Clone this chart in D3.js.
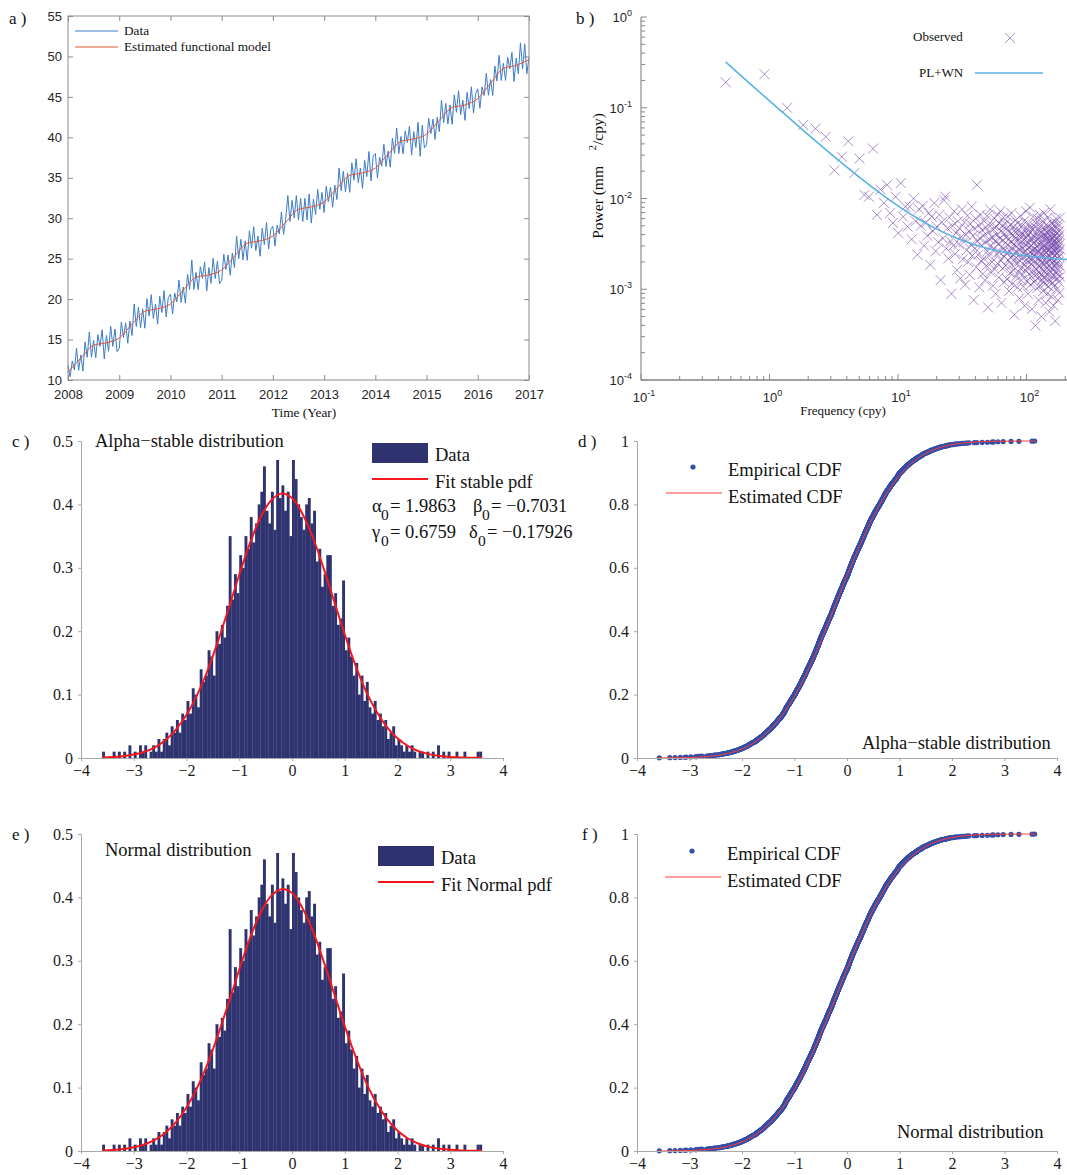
<!DOCTYPE html>
<html><head><meta charset="utf-8">
<script src="https://cdn.jsdelivr.net/npm/d3@7"></script>
<style>body{margin:0;background:#fff}svg{display:block}</style>
</head><body>
<script>
// ---------- Panel a: GPS time series ----------
const tsStart = 2008, tsStep = 1/24;
const tsData = [
11.8,10.4,12.35,11.25,13.95,11.2,13.1,11.1,14.7,12.8,15.95,12.8,14.9,12.75,15.6,14.15,16.2,12.6,15.5,13.55,16.65,14.15,16.3,13.5,
13.9,17.15,15.25,17.05,14.55,17.3,15.5,19.4,16.6,19.0,16.45,18.8,16.4,20.05,17.9,20.55,17.6,19.4,16.9,20.35,18.35,21.05,17.8,20.2,
20.6,18.15,20.75,19.65,22.35,19.6,21.5,19.5,23.1,21.2,24.85,21.2,23.3,21.15,24.0,22.55,24.6,21.0,23.9,21.95,25.05,22.55,24.7,21.9,
22.3,25.55,23.65,25.45,22.95,25.7,23.9,27.8,25.0,27.4,24.85,27.2,24.8,28.45,26.3,28.95,26.0,27.8,25.3,28.75,26.75,29.45,26.2,28.6,
29.0,26.55,29.15,28.05,30.75,28.0,29.9,32.8,29.6,32.2,30.05,32.8,29.8,32.45,29.6,32.45,29.8,33.0,29.4,32.35,30.45,33.55,31.1,33.2,
30.7,33.95,32.05,33.85,31.35,34.1,32.3,36.2,33.4,35.8,33.25,35.6,33.2,36.85,34.7,37.35,34.4,36.2,33.7,37.15,35.15,38.25,34.6,37.7,
38.0,34.95,37.55,36.45,39.15,36.4,38.3,36.3,39.9,38.0,41.15,38.0,40.1,37.95,40.8,39.35,41.4,37.8,40.7,38.75,41.85,37.65,41.5,38.7,
39.1,42.35,40.45,42.25,39.75,42.5,40.7,44.6,41.8,44.2,41.65,44.0,41.6,45.25,43.1,45.75,42.8,44.6,42.1,45.55,43.55,46.25,43.0,45.4,
46.0,43.59,46.23,45.17,47.91,45.2,47.14,45.18,48.82,46.96,50.15,47.03,49.16,47.03,49.89,48.45,50.5,46.9,49.8,47.86,51.68,48.49,51.56,47.87,
49.9];
const modelStep = 0.25;
const tsModel = [
11.0,12.7,14.3,14.6, 15.2,16.9,18.5,18.8, 19.4,21.1,22.7,23.0, 23.6,25.3,26.9,27.2,
27.8,29.5,31.1,31.4, 32.0,33.7,35.3,35.6, 36.2,37.9,39.5,39.8, 40.4,42.1,43.7,44.0,
44.8,46.7,48.5,48.9, 49.6];
const yearTicks = [2008,2009,2010,2011,2012,2013,2014,2015,2016,2017];
const posTicks = [10,15,20,25,30,35,40,45,50,55];

// ---------- Panel b: power spectrum ----------
const freqStep = 0.4566;
const psdLogPower = [
-0.72,-0.63,-1.00,-1.19,-1.23,-1.32,-1.69,-1.54,-1.37,-1.72,
-1.56,-1.96,-1.98,-1.45,-2.18,-1.90,-2.05,-1.85,-2.16,-2.27,
-1.98,-2.38,-1.83,-2.20,-2.09,-2.31,-2.09,-2.45,-2.00,-2.25,
-2.62,-2.12,-2.30,-2.08,-2.52,-2.27,-2.41,-2.16,-2.73,-2.20,
-2.36,-2.05,-2.58,-2.31,-2.48,-2.18,-2.90,-2.26,-2.44,-2.02,
-1.98,-2.55,-2.33,-2.66,-2.21,-2.47,-3.05,-2.30,-2.52,-2.14,
-2.61,-2.38,-2.79,-2.25,-2.50,-2.33,-2.88,-2.42,-2.12,-2.67,
-2.48,-2.26,-2.95,-2.40,-2.57,-2.19,-2.70,-2.36,-2.84,-2.28,
-2.51,-2.09,-2.63,-2.41,-3.12,-2.33,-2.55,-2.22,-2.76,-1.85,
-2.47,-2.62,-2.30,-2.98,-2.44,-2.18,-2.69,-2.52,-2.35,-2.83,
-2.41,-2.66,-2.25,-2.90,-2.48,-2.32,-2.74,-2.19,-2.58,-3.20,
-2.37,-2.63,-2.45,-2.12,-2.81,-2.52,-2.29,-2.70,-2.43,-2.96,
-2.34,-2.56,-2.22,-2.78,-2.47,-3.05,-2.31,-2.61,-2.40,-2.18,
-2.72,-2.50,-2.87,-2.27,-2.59,-2.44,-2.14,-2.68,-2.36,-3.15,
-2.53,-2.30,-2.77,-2.46,-2.21,-2.64,-2.92,-2.39,-2.57,-2.28,
-2.74,-2.43,-2.60,-2.33,-2.89,-2.51,-2.20,-2.68,-2.45,-3.02,
-2.37,-2.58,-2.82,-2.29,-2.65,-2.48,-2.16,-2.73,-2.55,-2.94,
-2.40,-2.62,-2.31,-2.79,-2.50,-3.28,-2.35,-2.67,-2.44,-2.24,
-2.86,-2.53,-2.71,-2.39,-2.59,-2.98,-2.27,-2.63,-2.46,-2.81,
-2.34,-2.56,-3.10,-2.42,-2.69,-2.19,-2.77,-2.52,-2.38,-2.90,
-2.48,-2.66,-2.30,-2.84,-2.55,-2.41,-2.97,-2.60,-2.25,-2.73,
-2.45,-3.18,-2.58,-2.36,-2.79,-2.51,-2.14,-2.68,-2.43,-2.91,
-2.62,-2.33,-2.76,-2.49,-3.05,-2.40,-2.65,-2.28,-2.83,-2.54,
-2.37,-2.70,-2.10,-2.59,-2.95,-2.44,-2.67,-2.32,-2.86,-2.52,
-3.22,-2.46,-2.61,-2.35,-2.74,-2.57,-2.20,-2.80,-2.49,-2.63,
-2.92,-2.42,-2.69,-2.31,-2.85,-2.56,-3.40,-2.47,-2.64,-2.27,
-2.78,-2.53,-2.38,-2.99,-2.60,-2.22,-2.72,-2.45,-2.88,-2.58,
-2.34,-3.12,-2.66,-2.43,-2.81,-2.50,-2.18,-2.75,-2.55,-2.96,
-2.39,-2.68,-2.30,-2.84,-2.61,-3.30,-2.48,-2.71,-2.36,-2.90,
-2.54,-2.25,-2.79,-2.44,-3.02,-2.63,-2.40,-2.87,-2.52,-2.16,
-2.73,-2.58,-2.94,-2.41,-2.67,-2.33,-2.82,-2.55,-3.15,-2.46,
-2.70,-2.29,-2.89,-2.60,-2.37,-2.77,-2.51,-3.05,-2.43,-2.65,
-2.21,-2.84,-2.57,-2.39,-2.97,-2.62,-2.31,-2.74,-2.48,-3.25,
-2.56,-2.35,-2.80,-2.45,-2.68,-2.12,-2.91,-2.59,-2.42,-2.76,
-2.53,-3.08,-2.38,-2.66,-2.27,-2.86,-2.50,-2.71,-2.44,-2.93,
-2.60,-2.34,-2.79,-2.52,-3.18,-2.47,-2.69,-2.30,-2.85,-2.57,
-2.41,-2.96,-2.63,-2.26,-2.75,-2.49,-3.35,-2.58,-2.37,-2.82,
-2.54,-2.22,-2.72,-2.45,-3.00,-2.61,-2.39,-2.88,-2.50,-2.66,
-2.32,-2.78,-2.55,-3.12,-2.43,-2.70,-2.28,-2.83,-2.59,-2.47,
-2.92,-2.36,-2.64,-2.51,-3.04,-2.40,-2.74,-2.21,-2.86,-2.56];
const plwnFreq  = [0.455,0.7,1,1.5,2,3,5,7,10,15,20,30,50,70,100,150,200,300];
const plwnPower = [0.320,0.186,0.119,0.072,0.0505,0.031,0.0172,0.0119,0.00828,0.00575,0.0046,0.00356,0.00281,0.00253,0.00234,0.0022,0.00214,0.00208];
const decX = [-1,0,1,2], decY = [-4,-3,-2,-1,0];

// ---------- Panels c-f: distributions ----------
const histStart = -3.6, histWidth = 0.05;
const histDensity = [
0.01,0,0,0,0.01,0,0.01,0,0.01,0,0.02,0,0.01,0,0.02,0.01,0.02,0,0.01,0.02,
0.01,0.03,0.01,0.03,0.04,0.02,0.05,0.04,0.06,0.04,0.07,0.06,0.09,0.07,0.11,0.10,0.08,0.14,0.12,0.13,
0.17,0.16,0.13,0.20,0.18,0.21,0.19,0.24,0.35,0.25,0.29,0.26,0.32,0.30,0.35,0.33,0.38,0.34,0.37,0.40,
0.42,0.46,0.39,0.37,0.42,0.36,0.47,0.41,0.43,0.39,0.42,0.35,0.47,0.44,0.40,0.38,0.36,0.40,0.41,0.37,
0.39,0.31,0.33,0.27,0.29,0.32,0.32,0.24,0.26,0.21,0.22,0.28,0.17,0.19,0.16,0.13,0.15,0.10,0.13,0.09,
0.12,0.08,0.07,0.09,0.06,0.07,0.05,0.06,0.03,0.04,0.05,0.02,0.03,0.02,0.01,0.02,0.01,0.02,0.01,0,
0.01,0.01,0,0.01,0,0.01,0,0.02,0,0.01,0,0.01,0,0,0.01,0,0,0.01,0,0,0,0,0.01,0.01];
const curveX = [-3.6,-3.4,-3.2,-3.0,-2.8,-2.6,-2.4,-2.2,-2.0,-1.8,-1.6,-1.4,-1.2,-1.0,-0.8,-0.6,-0.4,-0.2,
  0,0.2,0.4,0.6,0.8,1.0,1.2,1.4,1.6,1.8,2.0,2.2,2.4,2.6,2.8,3.0,3.2,3.4,3.6];
const stablePdf = [0.0007,0.0014,0.0028,0.0054,0.0098,0.0169,0.0281,0.0447,0.0681,0.0992,0.138,0.185,0.236,0.289,0.338,0.379,0.406,0.417,
  0.410,0.385,0.347,0.299,0.247,0.195,0.147,0.106,0.0737,0.0488,0.031,0.0188,0.0109,0.0061,0.0032,0.0017,0.0008,0.0004,0.0002];
const normalPdf = [0.0008,0.0016,0.0031,0.0058,0.0103,0.0175,0.0288,0.0454,0.0686,0.0995,0.138,0.184,0.234,0.286,0.335,0.375,0.402,0.413,
  0.407,0.383,0.346,0.299,0.248,0.197,0.150,0.109,0.0760,0.0506,0.0323,0.0197,0.0115,0.0065,0.0035,0.0018,0.0009,0.0004,0.0002];
const stableCdf = [0.0002,0.0004,0.0008,0.0016,0.0031,0.0057,0.0101,0.0173,0.0285,0.0451,0.0688,0.101,0.143,0.195,0.258,0.330,0.409,0.492,
  0.575,0.654,0.728,0.793,0.847,0.891,0.926,0.951,0.969,0.981,0.9887,0.9936,0.9965,0.9982,0.9991,0.9996,0.9998,0.9999,1.0];
const normalCdf = stableCdf.slice();
const stableParams = [['\u03b1', '= 1.9863'], ['\u03b2', '= \u22120.7031'], ['\u03b3', '= 0.6759'], ['\u03b4', '= \u22120.17926']];
const xTicksDist = [-4,-3,-2,-1,0,1,2,3,4];
const pdfTicks = [0,0.1,0.2,0.3,0.4,0.5];
const cdfTicks = [0,0.2,0.4,0.6,0.8,1];

// =================== drawing ===================
const W = 1067, H = 1175;
const SERIF = "'Liberation Serif','Times New Roman',serif";
const SANS = "'Liberation Sans',Arial,Helvetica,sans-serif";
const BIG = 18.5;
const svg = d3.select('body').append('svg').attr('width', W).attr('height', H);

function txt(x, y, s, size, fam, anchor, fill) {
  return svg.append('text').attr('x', x).attr('y', y).text(s)
    .attr('font-size', size).attr('font-family', fam || SERIF)
    .attr('text-anchor', anchor || 'start').attr('fill', fill || '#111');
}

// ---- Panel a ----
(function(){
  const x = d3.scaleLinear([2008, 2017], [68, 529]);
  const y = d3.scaleLinear([10, 55], [380, 16]);
  const g = svg.append('g');
  const styleAxis = (sel) => {
    sel.select('.domain').remove();
    sel.selectAll('.tick line').attr('stroke', '#8c8c8c');
    sel.selectAll('.tick text').attr('font-family', SANS).attr('font-size', 13).attr('fill', '#262626');
  };
  g.append('g').attr('transform', 'translate(0,380)')
    .call(d3.axisBottom(x).tickValues(yearTicks).tickFormat(d3.format('d')).tickSize(-5).tickPadding(10)).call(styleAxis);
  g.append('g').attr('transform', 'translate(0,16)')
    .call(d3.axisTop(x).tickValues(yearTicks).tickFormat('').tickSize(-5)).call(styleAxis);
  g.append('g').attr('transform', 'translate(68,0)')
    .call(d3.axisLeft(y).tickValues(posTicks).tickSize(-5).tickPadding(6)).call(styleAxis);
  g.append('g').attr('transform', 'translate(529,0)')
    .call(d3.axisRight(y).tickValues(posTicks).tickFormat('').tickSize(-5)).call(styleAxis);

  const dataLine = d3.line().x((d, i) => x(tsStart + i * tsStep)).y(d => y(d));
  g.append('path').datum(tsData).attr('d', dataLine).attr('fill', 'none')
    .attr('stroke', '#3d7cc9').attr('stroke-width', 1);
  const modelLine = d3.line().x((d, i) => x(tsStart + i * modelStep)).y(d => y(d)).curve(d3.curveMonotoneX);
  g.append('path').datum(tsModel).attr('d', modelLine).attr('fill', 'none')
    .attr('stroke', '#e4572e').attr('stroke-width', 1);
  g.append('rect').attr('x', 68).attr('y', 16).attr('width', 461).attr('height', 364)
    .attr('fill', 'none').attr('stroke', '#8c8c8c').attr('stroke-width', 1);

  g.append('line').attr('x1', 75).attr('x2', 118).attr('y1', 31).attr('y2', 31).attr('stroke', '#3d7cc9');
  txt(124, 35, 'Data', 13.3);
  g.append('line').attr('x1', 75).attr('x2', 118).attr('y1', 47).attr('y2', 47).attr('stroke', '#e4572e');
  txt(124, 51, 'Estimated functional model', 13.3);
  txt(304, 417, 'Time (Year)', 13.3, SERIF, 'middle');
  txt(9, 24, 'a )', 17);
})();

// ---- Panel b ----
(function(){
  const x = d3.scaleLog([0.1, 1000], [641, 641 + 128.5 * 4]);
  const y = d3.scaleLog([1e-4, 1], [380, 17]);
  const g = svg.append('g');
  g.append('line').attr('x1', 641).attr('x2', W).attr('y1', 380).attr('y2', 380).attr('stroke', '#444');
  g.append('line').attr('x1', 641).attr('x2', 641).attr('y1', 17).attr('y2', 380).attr('stroke', '#777');
  y.ticks().forEach(v => {
    const major = Math.abs(Math.log10(v) - Math.round(Math.log10(v))) < 1e-9;
    g.append('line').attr('x1', 641).attr('x2', 641 + (major ? 6 : 4)).attr('y1', y(v)).attr('y2', y(v)).attr('stroke', '#888');
  });
  x.ticks().filter(v => x(v) < W).forEach(v => {
    const major = Math.abs(Math.log10(v) - Math.round(Math.log10(v))) < 1e-9;
    g.append('line').attr('y1', 380).attr('y2', 380 - (major ? 6 : 4)).attr('x1', x(v)).attr('x2', x(v)).attr('stroke', '#888');
  });
  decY.forEach(e => {
    const t = g.append('text').attr('x', 632).attr('y', y(Math.pow(10, e)) + 5)
      .attr('text-anchor', 'end').attr('font-family', SANS).attr('font-size', 13).attr('fill', '#262626');
    t.append('tspan').text('10');
    t.append('tspan').text(String(e)).attr('font-size', 9).attr('dy', -6);
  });
  decX.forEach(e => {
    const t = g.append('text').attr('x', x(Math.pow(10, e)) + 3).attr('y', 402)
      .attr('text-anchor', 'middle').attr('font-family', SANS).attr('font-size', 13).attr('fill', '#262626');
    t.append('tspan').text('10');
    t.append('tspan').text(String(e)).attr('font-size', 9).attr('dy', -6);
  });
  const cross = 'M-5,-5L5,5M-5,5L5,-5';
  g.selectAll('path.obs').data(psdLogPower).join('path').attr('class', 'obs')
    .attr('transform', (d, i) => `translate(${x((i + 1) * freqStep)},${y(Math.pow(10, d))})`)
    .attr('d', cross).attr('fill', 'none').attr('stroke', '#7446ad').attr('stroke-opacity', 0.6).attr('stroke-width', 1);
  const pts = plwnFreq.map((f, i) => [f, plwnPower[i]]);
  g.append('path').datum(pts).attr('fill', 'none').attr('stroke', '#5bb3e3').attr('stroke-width', 1.6)
    .attr('d', d3.line().x(d => x(d[0])).y(d => y(d[1])).curve(d3.curveMonotoneX));

  txt(913, 41, 'Observed', 13);
  g.append('path').attr('transform', 'translate(1010,38)').attr('d', cross).attr('fill', 'none')
    .attr('stroke', '#7446ad').attr('stroke-opacity', 0.6);
  txt(919, 77, 'PL+WN', 13);
  g.append('line').attr('x1', 975).attr('x2', 1043).attr('y1', 73).attr('y2', 73).attr('stroke', '#5bb3e3').attr('stroke-width', 1.6);
  txt(843, 415, 'Frequency (cpy)', 13, SERIF, 'middle');
  const yl = svg.append('text').attr('transform', 'translate(603,176) rotate(-90)').attr('text-anchor', 'middle')
    .attr('font-family', SERIF).attr('font-size', 15.5).attr('fill', '#111').attr('xml:space', 'preserve');
  yl.append('tspan').text('Power (mm\u00a0\u00a0\u00a0\u00a0');
  yl.append('tspan').text('2').attr('font-size', 11).attr('dy', -7);
  yl.append('tspan').text('/cpy)').attr('dy', 7);
  txt(576, 24, 'b )', 17);
})();

// ---- distribution panels ----
function distAxes(x, y, y0, yTicks, x0) {
  const gx = svg.append('g').attr('transform', `translate(0,${y0})`)
    .call(d3.axisBottom(x).tickValues(xTicksDist).tickSize(3).tickPadding(4));
  const gy = svg.append('g').attr('transform', `translate(${x0},0)`)
    .call(d3.axisLeft(y).tickValues(yTicks).tickFormat(d3.format('')).tickSize(3).tickPadding(5));
  [gx, gy].forEach(s => {
    s.select('.domain').attr('stroke', '#a8a8a8');
    s.selectAll('.tick line').attr('stroke', '#a8a8a8');
    s.selectAll('.tick text').attr('font-family', SERIF).attr('font-size', 16).attr('fill', '#1a1a1a');
  });
}

function pdfPanel(yTop, yBot, pdf, label, legLabel, opts) {
  const x = d3.scaleLinear([-4, 4], [81, 503]);
  const y = d3.scaleLinear([0, 0.5], [yBot, yTop]);
  const g = svg.append('g');
  g.selectAll('rect.bar').data(histDensity).join('rect').attr('class', 'bar')
    .attr('x', (d, i) => x(histStart + i * histWidth))
    .attr('width', x(histWidth) - x(0) + 0.25)
    .attr('y', d => y(d)).attr('height', d => yBot - y(d))
    .attr('fill', '#2e3370');
  g.append('path').datum(curveX.map((v, i) => [v, pdf[i]])).attr('fill', 'none')
    .attr('stroke', '#f5171b').attr('stroke-width', 2)
    .attr('d', d3.line().x(d => x(d[0])).y(d => y(d[1])).curve(d3.curveCatmullRom));
  distAxes(x, y, yBot, pdfTicks, 81);
  txt(opts.lx, opts.ly, label, BIG);
  g.append('rect').attr('x', opts.rx).attr('y', opts.ry).attr('width', 56).attr('height', 20).attr('fill', '#2e3370');
  txt(opts.rx + 63, opts.ry + 18, 'Data', BIG);
  g.append('line').attr('x1', opts.rx).attr('x2', opts.rx + 56).attr('y1', opts.ry + 36).attr('y2', opts.ry + 36)
    .attr('stroke', '#f5171b').attr('stroke-width', 2);
  txt(opts.rx + 63, opts.ry + 45, legLabel, BIG);
}

function cdfPanel(yTop, yBot, cdf, label, opts) {
  const x = d3.scaleLinear([-4, 4], [637, 1057]);
  const y = d3.scaleLinear([0, 1], [yBot, yTop]);
  const g = svg.append('g');
  const counts = histDensity.map(h => Math.round(h * 100));
  const total = d3.sum(counts);
  const dots = [];
  let cum = 0;
  counts.forEach((c, i) => {
    for (let j = 0; j < c; j++) {
      cum += 1;
      dots.push([histStart + i * histWidth + (j + 0.5) / c * histWidth, cum / total]);
    }
  });
  distAxes(x, y, yBot, cdfTicks, 637);
  g.selectAll('circle').data(dots).join('circle')
    .attr('cx', d => x(d[0])).attr('cy', d => y(d[1])).attr('r', 2.6).attr('fill', '#3350a8');
  g.append('path').datum(curveX.map((v, i) => [v, cdf[i]])).attr('fill', 'none')
    .attr('stroke', '#ff3a3a').attr('stroke-width', 1)
    .attr('d', d3.line().x(d => x(d[0])).y(d => y(d[1])).curve(d3.curveCatmullRom));
  g.append('circle').attr('cx', opts.dx).attr('cy', opts.dy).attr('r', 2.6).attr('fill', '#3350a8');
  txt(opts.dx + 35, opts.dy + 9, 'Empirical CDF', BIG);
  g.append('line').attr('x1', opts.dx - 27).attr('x2', opts.dx + 29).attr('y1', opts.dy + 26).attr('y2', opts.dy + 26)
    .attr('stroke', '#ff3a3a').attr('stroke-width', 1);
  txt(opts.dx + 35, opts.dy + 36, 'Estimated CDF', BIG);
  txt(opts.tx, opts.ty, label, BIG);
}

pdfPanel(441, 758, stablePdf, 'Alpha\u2212stable distribution', 'Fit stable pdf', {lx: 95, ly: 447, rx: 372, ry: 443});
pdfPanel(834, 1151, normalPdf, 'Normal distribution', 'Fit Normal pdf', {lx: 105, ly: 856, rx: 378, ry: 846});
cdfPanel(441, 758, stableCdf, 'Alpha\u2212stable distribution', {dx: 693, dy: 467, tx: 862, ty: 749});
cdfPanel(834, 1151, normalCdf, 'Normal distribution', {dx: 692, dy: 851, tx: 897, ty: 1138});

// stable parameters (two rows, two columns)
const paramPos = [[372, 512], [473, 512], [372, 538], [469, 538]];
stableParams.forEach((p, i) => {
  const [px, py] = paramPos[i];
  txt(px, py, p[0], BIG);
  txt(px + 9, py + 8, '0', 15.5);
  txt(px + 18, py, p[1], BIG);
});

txt(12, 447, 'c )', 17);
txt(578, 447, 'd )', 17);
txt(12, 840, 'e )', 17);
txt(582, 840, 'f )', 17);
</script>
</body></html>
